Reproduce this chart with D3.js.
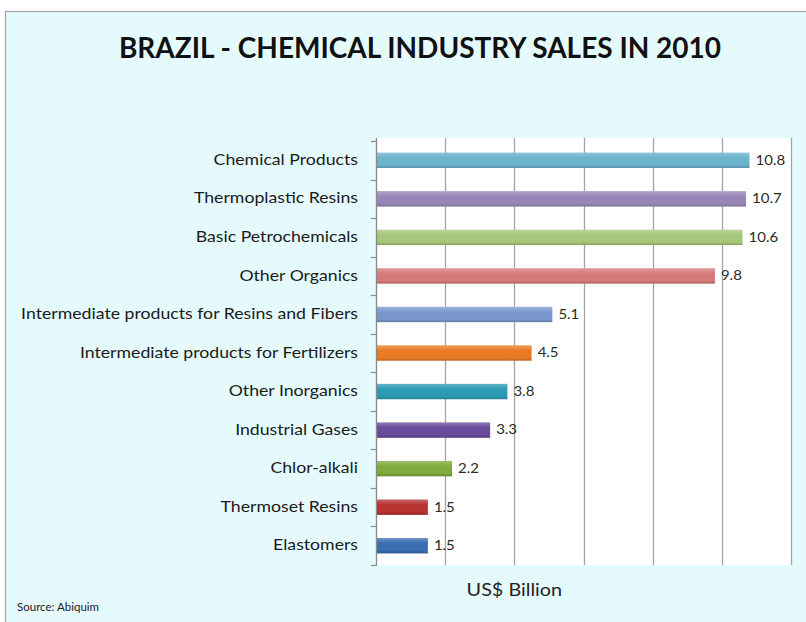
<!DOCTYPE html>
<html>
<head>
<meta charset="utf-8">
<script src="https://cdn.jsdelivr.net/npm/d3@7"></script>
<style>
  body { margin: 0; background: #ffffff; }
  svg text { font-family: Lato, "Open Sans", sans-serif; }
</style>
</head>
<body>
<svg id="chart" width="806" height="622"></svg>
<script>
// Sales by segment, US$ billion
const categories = [
  "Chemical Products",
  "Thermoplastic Resins",
  "Basic Petrochemicals",
  "Other Organics",
  "Intermediate products for Resins and Fibers",
  "Intermediate products for Fertilizers",
  "Other Inorganics",
  "Industrial Gases",
  "Chlor-alkali",
  "Thermoset Resins",
  "Elastomers"
];
const values = [10.8, 10.7, 10.6, 9.8, 5.1, 4.5, 3.8, 3.3, 2.2, 1.5, 1.5];
const barColors = [
  "#6bb2cb", "#9886b9", "#a6c67a", "#d57a79", "#7a98cd", "#ea7b24",
  "#2b9bb3", "#6a4b9a", "#80aa3c", "#b73330", "#3a6db2"
];
const xTicks = [0, 2, 4, 6, 8, 10, 12];

const svg = d3.select("#chart");

// outer panel
svg.append("rect")
  .attr("x", 5.5).attr("y", 11.5)
  .attr("width", 830).attr("height", 640)
  .attr("fill", "#e5fafd")
  .attr("stroke", "#a0a4a6").attr("stroke-width", 1.2);

const plot = { left: 376, right: 791, top: 141, bottom: 565 };

const x = d3.scaleLinear().domain([0, 12]).range([plot.left, plot.right]);
const y = d3.scaleBand().domain(categories).range([plot.top, plot.bottom]).paddingInner(0.6).paddingOuter(0.3);

// plot background
svg.append("rect")
  .attr("x", plot.left).attr("y", plot.top - 3)
  .attr("width", plot.right - plot.left).attr("height", plot.bottom - plot.top + 3)
  .attr("fill", "#ffffff");

// vertical gridlines
svg.append("g")
  .selectAll("line")
  .data(xTicks.slice(1))
  .join("line")
  .attr("x1", d => Math.round(x(d)) + 0.5).attr("x2", d => Math.round(x(d)) + 0.5)
  .attr("y1", plot.top - 3).attr("y2", plot.bottom)
  .attr("stroke", "#a3a3a3").attr("stroke-width", 1.3);

// glossy vertical gradients per bar
const defs = svg.append("defs");
barColors.forEach((c, i) => {
  const g = defs.append("linearGradient")
    .attr("id", "bar" + i).attr("x1", 0).attr("y1", 0).attr("x2", 0).attr("y2", 1);
  const base = d3.color(c);
  g.append("stop").attr("offset", "0%").attr("stop-color", d3.interpolateRgb(c, "#ffffff")(0.25));
  g.append("stop").attr("offset", "35%").attr("stop-color", base.formatHex());
  g.append("stop").attr("offset", "80%").attr("stop-color", base.formatHex());
  g.append("stop").attr("offset", "100%").attr("stop-color", base.darker(0.6).formatHex());
});

// bars
svg.append("g")
  .selectAll("rect")
  .data(categories)
  .join("rect")
  .attr("x", x(0))
  .attr("y", d => y(d))
  .attr("width", (d, i) => x(values[i]) - x(0))
  .attr("height", y.bandwidth())
  .attr("fill", (d, i) => `url(#bar${i})`);

// value labels (slightly widened type)
svg.append("g")
  .selectAll("text")
  .data(categories)
  .join("text")
  .attr("transform", (d, i) => `translate(${x(values[i]) + 6},${y(d) + y.bandwidth() / 2}) scale(1.2,1)`)
  .attr("dy", "0.35em")
  .attr("font-size", 12.5)
  .attr("fill", "#2a2a2a")
  .text((d, i) => values[i].toFixed(1));

// category axis
const yAxis = d3.axisLeft(y).tickSize(0).tickPadding(18);
const ag = svg.append("g")
  .attr("transform", `translate(${plot.left},0)`)
  .call(yAxis);
ag.select(".domain").remove();
ag.selectAll("text")
  .attr("x", null)
  .attr("transform", "translate(-18,0) scale(1.22,1)")
  .attr("font-size", 14.5)
  .attr("fill", "#1a1a1a")
  .style("font-family", "Lato, 'Open Sans', sans-serif");

// axis line and boundary ticks
svg.append("line")
  .attr("x1", plot.left + 0.5).attr("x2", plot.left + 0.5)
  .attr("y1", plot.top - 3).attr("y2", plot.bottom + 1)
  .attr("stroke", "#8a8a8a").attr("stroke-width", 1.3);
const boundaries = d3.range(categories.length + 1).map(i => plot.top + i * (plot.bottom - plot.top) / categories.length);
svg.append("g")
  .selectAll("line")
  .data(boundaries)
  .join("line")
  .attr("x1", plot.left - 5).attr("x2", plot.left)
  .attr("y1", d => Math.round(d) + 0.5).attr("y2", d => Math.round(d) + 0.5)
  .attr("stroke", "#8a8a8a").attr("stroke-width", 1.2);

// titles
svg.append("text")
  .attr("x", 420).attr("y", 58)
  .attr("text-anchor", "middle")
  .attr("font-size", 28)
  .attr("font-weight", 700)
  .attr("fill", "#111111")
  .text("BRAZIL - CHEMICAL INDUSTRY SALES IN 2010");

svg.append("text")
  .attr("transform", `translate(${x(4)},596) scale(1.1,1)`)
  .attr("text-anchor", "middle")
  .attr("font-size", 18)
  .attr("fill", "#222222")
  .text("US$ Billion");

svg.append("text")
  .attr("x", 17).attr("y", 611)
  .attr("font-size", 11.5)
  .attr("fill", "#222222")
  .text("Source: Abiquim");
</script>
</body>
</html>
